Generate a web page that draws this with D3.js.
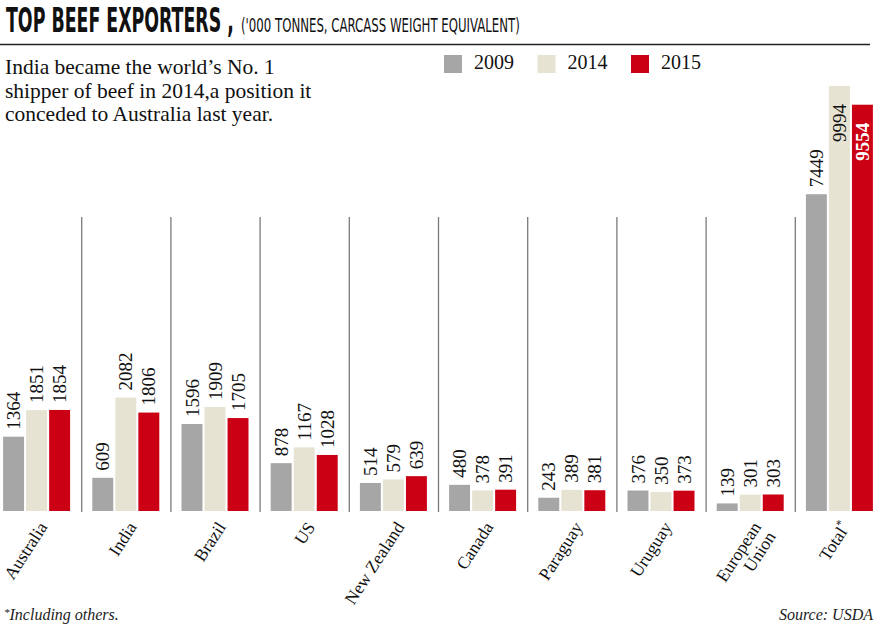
<!DOCTYPE html>
<html>
<head>
<meta charset="utf-8">
<script src="https://cdn.jsdelivr.net/npm/d3@7"></script>
<style>
  body { margin: 0; background: #fff; }
  svg { display: block; }
</style>
</head>
<body>
<div id="chart"></div>
<script>
// data ('000 tonnes, carcass weight equivalent)
const countries = ['Australia', 'India', 'Brazil', 'US', 'New Zealand', 'Canada', 'Paraguay', 'Uruguay', 'European Union'];
const years = ['2009', '2014', '2015'];
const values2009 = [1364, 609, 1596, 878, 514, 480, 243, 376, 139];
const values2014 = [1851, 2082, 1909, 1167, 579, 378, 389, 350, 301];
const values2015 = [1854, 1806, 1705, 1028, 639, 391, 381, 373, 303];
const totals = [7449, 9994, 9554];
const colors = ['#a6a6a6', '#e6e3d3', '#cc0014'];

const width = 884, height = 643;
const baseline = 511;
const serif = '"Liberation Serif", "DejaVu Serif", serif';
const narrow = '"Liberation Sans Narrow", "DejaVu Sans Condensed", sans-serif';

const svg = d3.select('#chart').append('svg')
    .attr('width', width)
    .attr('height', height);

// header: squeeze condensed text horizontally to the reference widths
function fitText(x, yPos, str, size, weight, targetW) {
    const t = svg.append('text')
        .attr('font-family', narrow).attr('font-weight', weight)
        .attr('font-size', size)
        .attr('fill', '#111')
        .text(str);
    const w = t.node().getComputedTextLength();
    t.attr('transform', `translate(${x},${yPos}) scale(${targetW / w},1)`);
    return t;
}
fitText(6, 32, 'TOP BEEF EXPORTERS ,', 33, 'bold', 228);
fitText(241, 32, "('000 TONNES, CARCASS WEIGHT EQUIVALENT)", 19, 'normal', 279);

svg.append('line')
    .attr('x1', 0).attr('x2', 870)
    .attr('y1', 44.5).attr('y2', 44.5)
    .attr('stroke', '#222').attr('stroke-width', 1.5);

const intro = ["India became the world\u2019s No. 1", 'shipper of beef in 2014,a position it', 'conceded to Australia last year.'];
svg.append('g').selectAll('text')
    .data(intro)
    .join('text')
    .attr('x', 5)
    .attr('y', (d, i) => 74 + i * 23.5)
    .attr('font-family', serif)
    .attr('font-size', 21.5)
    .attr('fill', '#111')
    .text(d => d);

// legend
let legend = svg.append('g').selectAll('g')
    .data(years)
    .join('g')
    .attr('transform', (d, i) => `translate(${444 + i * 93.5},55)`);
legend.append('rect')
    .attr('width', 18).attr('height', 18)
    .attr('fill', (d, i) => colors[i]);
legend.append('text')
    .attr('x', 30).attr('y', 14)
    .attr('font-family', serif).attr('font-size', 20)
    .attr('fill', '#111')
    .text(d => d);

// scales
const groups = countries.concat(['Total']);
const x0 = d3.scaleBand().domain(groups).range([-8, 884]);
const x1 = d3.scaleBand().domain(years)
    .range([(x0.bandwidth() - 67) / 2, (x0.bandwidth() + 67) / 2])
    .paddingInner(0.09);
const y = d3.scaleLinear().domain([0, 2000]).range([baseline, 402]);
const yTotal = d3.scaleLinear().domain([0, d3.max(totals)]).range([baseline, 86]);

const rows = groups.map((g, i) => {
    const vals = g === 'Total' ? totals : [values2009[i], values2014[i], values2015[i]];
    return { group: g, items: years.map((yr, j) => ({ group: g, year: yr, idx: j, value: vals[j] })) };
});

// separators between groups
svg.append('g').selectAll('line')
    .data(groups.slice(1))
    .join('line')
    .attr('x1', d => x0(d) + 0.5).attr('x2', d => x0(d) + 0.5)
    .attr('y1', 217).attr('y2', baseline + 1)
    .attr('stroke', '#7a7a7a').attr('stroke-width', 1.3);

const groupSel = svg.append('g').selectAll('g')
    .data(rows)
    .join('g')
    .attr('transform', d => `translate(${x0(d.group)},0)`);

const scaleFor = d => d.group === 'Total' ? yTotal : y;
const isInside = d => scaleFor(d)(d.value) < 150;

groupSel.selectAll('rect')
    .data(d => d.items)
    .join('rect')
    .attr('x', d => x1(d.year))
    .attr('width', x1.bandwidth())
    .attr('y', d => scaleFor(d)(d.value))
    .attr('height', d => baseline - scaleFor(d)(d.value))
    .attr('fill', d => colors[d.idx]);

// value labels, rotated; tall bars get them inside
groupSel.selectAll('text.val')
    .data(d => d.items)
    .join('text')
    .classed('val', true)
    .attr('transform', d => {
        const top = scaleFor(d)(d.value);
        const yy = isInside(d) ? top + 18 : top - 7;
        return `translate(${x1(d.year) + x1.bandwidth() / 2},${yy}) rotate(-90)`;
    })
    .attr('dy', '0.35em')
    .attr('text-anchor', d => isInside(d) ? 'end' : 'start')
    .attr('font-family', serif)
    .attr('font-size', 19)
    .attr('font-weight', d => isInside(d) && d.idx === 2 ? 'bold' : 'normal')
    .attr('fill', d => isInside(d) && d.idx === 2 ? '#fff' : '#111')
    .text(d => d.value);

// category labels
const catLabels = groupSel.append('text')
    .attr('transform', d => `translate(${x0.bandwidth() / 2 + 11.5},${baseline + 16}) rotate(-57)`)
    .attr('text-anchor', 'end')
    .attr('font-family', serif)
    .attr('font-size', 17.5)
    .attr('fill', '#111');

catLabels.each(function(d) {
    const t = d3.select(this);
    if (d.group === 'European Union') {
        t.append('tspan').attr('x', 0).attr('dy', 0).text('European');
        t.append('tspan').attr('x', 0).attr('dy', '1em').text('Union');
    } else if (d.group === 'Total') {
        t.append('tspan').text('Total');
        t.append('tspan').attr('font-size', 12).attr('dy', -7).text('*');
    } else {
        t.text(d.group);
    }
});

// footer
const foot = svg.append('text')
    .attr('x', 4).attr('y', 620)
    .attr('font-family', serif).attr('font-style', 'italic')
    .attr('font-size', 16).attr('fill', '#222');
foot.append('tspan').attr('font-size', 11).attr('dy', -4).text('*');
foot.append('tspan').attr('dy', 4).text('Including others.');

svg.append('text')
    .attr('x', 873).attr('y', 620)
    .attr('text-anchor', 'end')
    .attr('font-family', serif).attr('font-style', 'italic')
    .attr('font-size', 16).attr('fill', '#222')
    .text('Source: USDA');
</script>
</body>
</html>
